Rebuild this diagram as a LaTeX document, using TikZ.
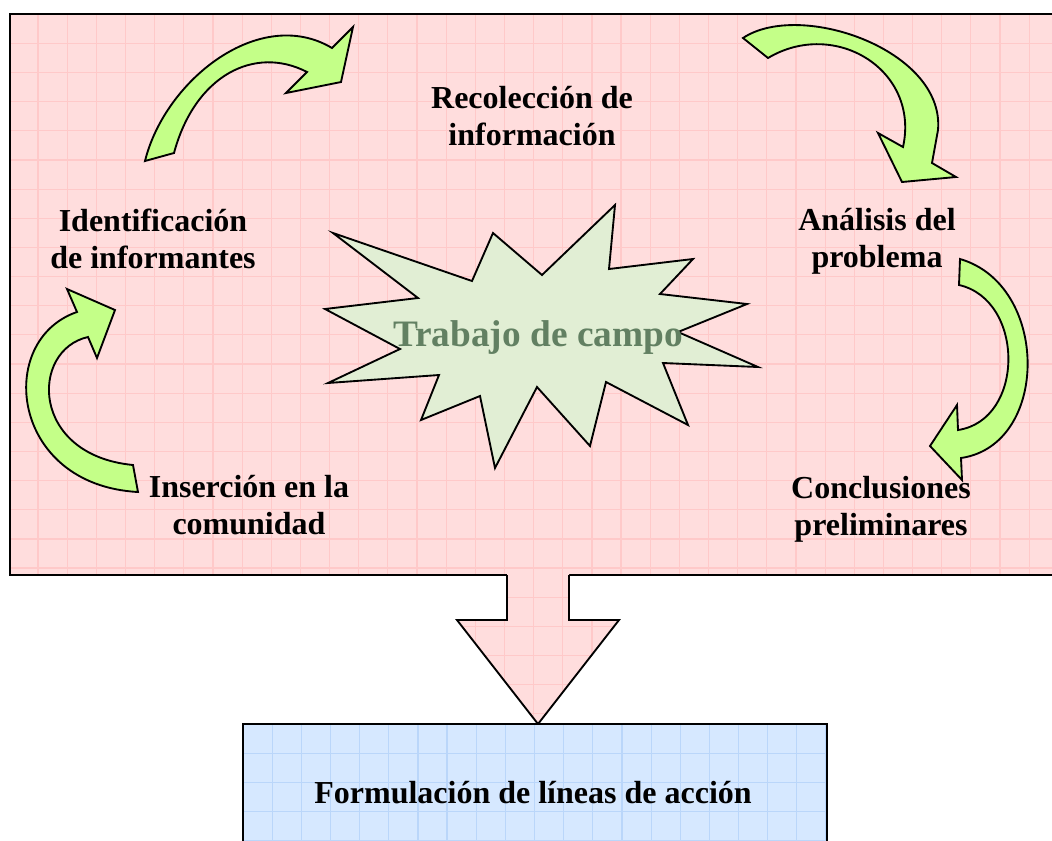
\documentclass[tikz,border=0pt]{standalone}
\usepackage{fontspec}
\setmainfont{Liberation Serif}
\definecolor{pinkfill}{RGB}{255,221,221}
\definecolor{pinkgrid}{RGB}{255,201,201}
\definecolor{arrowgreen}{RGB}{196,255,136}
\definecolor{starfill}{RGB}{225,238,212}
\definecolor{startext}{RGB}{98,128,98}
\definecolor{bluefill}{RGB}{214,232,255}
\definecolor{bluegrid}{RGB}{186,214,250}
\tikzset{
  lbl/.style={font=\bfseries\fontsize{24}{27.75}\selectfont, align=center, text=black, inner sep=0pt},
  bendarrow/.style={fill=arrowgreen, draw=black, line width=1.4pt, line join=miter},
  outline/.style={draw=black, line width=1.4pt},
  gridline/.style={line width=0.9pt},
}
\begin{document}
\begin{tikzpicture}[x=0.75pt,y=-0.75pt]
\useasboundingbox (0,0) rectangle (1052,840);
\clip (0,0) rectangle (1052,840);

% main panel
\fill[pinkfill] (10,14) rectangle (1060,575);
\begin{scope}
  \clip (10,14) rectangle (1060,575);
  \foreach \i in {0,...,37} \draw[pinkgrid,gridline] ({8.9+29.15*\i},14) -- ({8.9+29.15*\i},575);
  \foreach \j in {0,...,20} \draw[pinkgrid,gridline] (10,{14.2+29.15*\j}) -- (1060,{14.2+29.15*\j});
\end{scope}
\draw[outline] (10,14) rectangle (1060,575);

% big down arrow
\fill[pinkfill] (507,573) -- (507,620) -- (457,620) -- (538,724) -- (619,620) -- (569,620) -- (569,573) -- cycle;
\begin{scope}
  \clip (507,573) -- (507,620) -- (457,620) -- (538,724) -- (619,620) -- (569,620) -- (569,573) -- cycle;
  \foreach \i in {15,...,21} \draw[pinkgrid,gridline] ({8.9+29.15*\i},570) -- ({8.9+29.15*\i},730);
  \foreach \j in {19,...,24} \draw[pinkgrid,gridline] (450,{14.2+29.15*\j}) -- (630,{14.2+29.15*\j});
\end{scope}
\draw[outline] (507,575) -- (507,620) -- (457,620) -- (538,724) -- (619,620) -- (569,620) -- (569,575);

% bottom box
\fill[bluefill] (243,724) rectangle (827,860);
\begin{scope}
  \clip (243,724) rectangle (827,860);
  \foreach \i in {0,...,21} \draw[bluegrid,gridline] ({243+29.15*\i},724) -- ({243+29.15*\i},860);
  \foreach \j in {0,...,5} \draw[bluegrid,gridline] (243,{724+29.15*\j}) -- (827,{724+29.15*\j});
\end{scope}
\draw[outline] (243,860) -- (243,724) -- (827,724) -- (827,860);
\node[lbl, anchor=base] (form) at (533,803) {Formulación de líneas de acción};

% star
\draw[fill=starfill, draw=black, line width=1.4pt, line join=miter]
  (333,233) -- (472,281) -- (493,233) -- (542,275) -- (615,205) -- (609,269)
  -- (693,259) -- (660,294) -- (747,304) -- (678,332) -- (758,367) -- (663,363)
  -- (688,425) -- (606,382) -- (590,446) -- (537,387) -- (495,468) -- (480,396)
  -- (421,420) -- (439,375) -- (328,383) -- (400,349) -- (325,309) -- (418,298) -- cycle;
\node[font=\bfseries\fontsize{28}{32}\selectfont, text=startext, inner sep=0pt, anchor=base] (campo) at (538,346) {Trabajo de campo};

% curved arrows
\draw[bendarrow] (145,161) .. controls (165,80) and (260,5) .. (332,48)
  -- (353,27) -- (341,82) -- (286,93) -- (307,72)
  .. controls (255,45) and (195,75) .. (174,153) -- cycle;
\draw[bendarrow] (743,38) .. controls (800,0) and (945,50) .. (938,130) -- (932,163)
  -- (956,177) -- (902,182) -- (878,133) -- (903,147)
  .. controls (920,70) and (835,18) .. (768,58) -- cycle;
\draw[bendarrow] (960,259) .. controls (1050,285) and (1050,445) .. (961,458)
  -- (962,480) -- (930,446) -- (957,405) -- (958,430)
  .. controls (1025,420) and (1025,300) .. (959,285) -- cycle;
\draw[bendarrow] (138,492) .. controls (10,485) and (-5,340) .. (77,312)
  -- (67,289) -- (115,310) -- (97,358) -- (88,337)
  .. controls (30,350) and (30,455) .. (133,465) -- cycle;

% labels
\node[lbl] (reco) at (532,116) {Recolección de\\información};
\node[lbl] (iden) at (153,239) {Identificación\\de informantes};
\node[lbl] (anal) at (877,241) {Análisis del\\problema};
\node[lbl] (inse) at (249,505) {Inserción en la\\comunidad};
\node[lbl] (conc) at (881,509) {Conclusiones\\preliminares};
\end{tikzpicture}
\end{document}
